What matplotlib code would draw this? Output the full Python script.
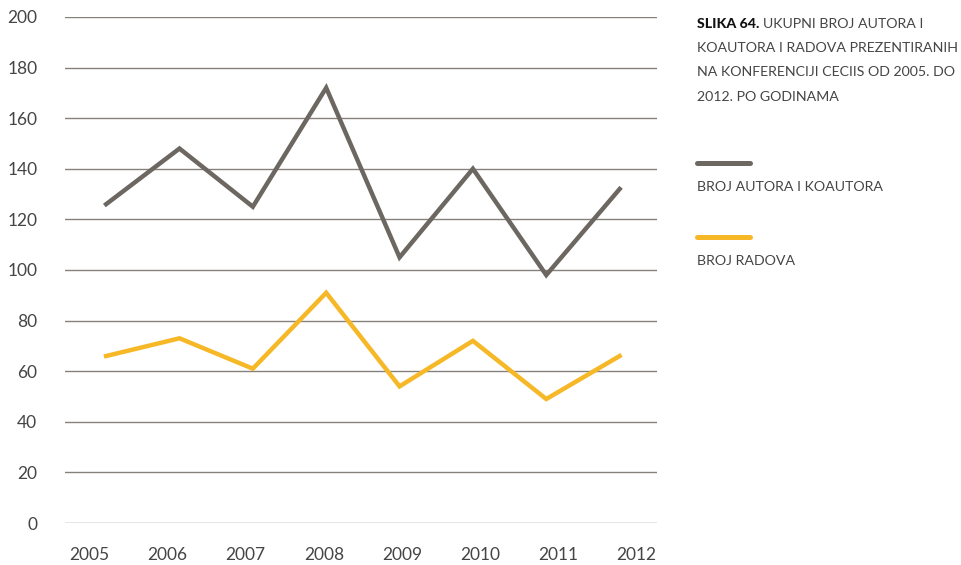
import numpy as np
import matplotlib.pyplot as plt
from matplotlib.lines import Line2D

years = ['2005', '2006', '2007', '2008', '2009', '2010', '2011', '2012']
autori = [126, 148, 125, 172, 105, 140, 98, 132]
radovi = [66, 73, 61, 91, 54, 72, 49, 66]

gray = '#6d6762'
yellow = '#f6b826'
txt = '#454545'

plt.rcParams['font.family'] = ['Lato', 'DejaVu Sans']

fig = plt.figure(figsize=(9.62, 5.65), dpi=100)
ax = fig.add_axes([0.0676, 0.0743, 0.6154, 0.8957])

x = np.arange(len(years))
ax.plot(x, autori, color=gray, lw=3.2, solid_joinstyle='miter', zorder=3)
ax.plot(x, radovi, color=yellow, lw=3.2, solid_joinstyle='miter', zorder=3)

ax.set_xlim(-0.56, 7.51)
ax.set_ylim(0, 200)
ax.set_yticks(range(0, 201, 20))
ax.set_xticks(np.linspace(-0.23, 7.23, 8))
ax.set_xticklabels(years)
ax.grid(axis='y', color='#85817d', lw=1)
ax.set_axisbelow(True)
for s in ax.spines.values():
    s.set_visible(False)
ax.tick_params(axis='both', length=0, labelsize=12.5, labelcolor=txt)
ax.tick_params(axis='y', pad=20)
ax.tick_params(axis='x', pad=17)

# naslov
fs = 10.2
t1 = fig.text(697 / 962, 1 - 24 / 565, 'SLIKA 64.', fontsize=fs, fontweight='black',
              color='#111111', va='center', ha='left')
fig.canvas.draw()
bb = t1.get_window_extent()
fig.text((bb.x1 + 4) / 962, 1 - 24 / 565, 'UKUPNI BROJ AUTORA I', fontsize=fs,
         color=txt, va='center', ha='left')
lines = ['KOAUTORA I RADOVA PREZENTIRANIH', 'NA KONFERENCIJI CECIIS OD 2005. DO',
         '2012. PO GODINAMA']
for i, l in enumerate(lines):
    fig.text(697 / 962, 1 - (48 + i * 24.3) / 565, l, fontsize=fs, color=txt,
             va='center', ha='left')

# legenda
for yy, col, lab in [(163, gray, 'BROJ AUTORA I KOAUTORA'), (237, yellow, 'BROJ RADOVA')]:
    fig.add_artist(Line2D([697 / 962, 750 / 962], [1 - yy / 565, 1 - yy / 565],
                          color=col, lw=3.6, solid_capstyle='round'))
    fig.text(697 / 962, 1 - (yy + 24) / 565, lab, fontsize=fs, color=txt,
             va='center', ha='left')

fig.savefig('out.png', dpi=100)
